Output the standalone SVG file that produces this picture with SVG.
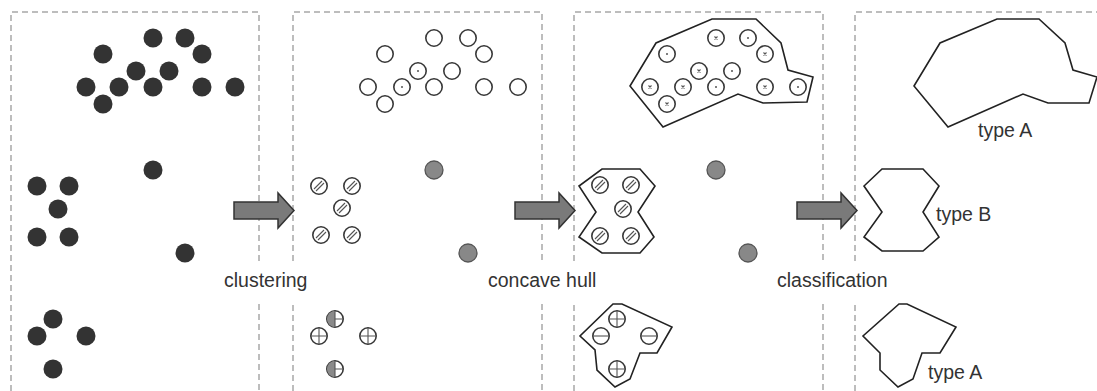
<svg xmlns="http://www.w3.org/2000/svg" xmlns:xlink="http://www.w3.org/1999/xlink" width="1097" height="391" viewBox="0 0 1097 391">
<style>
.frame{fill:none;stroke:#a8a8a8;stroke-width:1.5;stroke-dasharray:6 4}
.hull{fill:none;stroke:#222;stroke-width:1.6;stroke-linejoin:miter}
.arrow{fill:#7a7a7a;stroke:#333;stroke-width:1.5}
.lbl{font-family:"Liberation Sans",Arial,sans-serif;font-size:19.5px;fill:#333}
.ring{fill:#fff;stroke:#383838;stroke-width:1.6}
.mark{stroke:#555;stroke-width:1.1;fill:none}
</style>
<defs>
<g id="dot"><circle r="9.5" fill="#333"/></g>
<g id="gray"><circle r="9" fill="#888" stroke="#555" stroke-width="1.3"/></g>
<g id="open"><circle r="8.2" class="ring"/></g>
<g id="opendot"><circle r="8.2" class="ring"/><circle r="1" fill="#555"/></g>
<g id="star"><circle r="8.2" class="ring"/><path class="mark" d="M-1.5,-1.5L1.5,1.5M-1.5,1.5L1.5,-1.5"/></g>
<g id="hatch"><circle r="8.2" class="ring"/><path class="mark" d="M-5,3L3,-5M-3,5L5,-3"/></g>
<g id="cross"><circle r="8.2" class="ring"/><path class="mark" d="M-8,0H8M0,-8V8"/></g>
<g id="half"><circle r="8.2" class="ring"/><path d="M0,-8A8,8 0 0 0 0,8Z" fill="#8a8a8a"/><path class="mark" d="M0,-8V8M0,0H8"/></g>
<g id="hbar"><circle r="8.2" class="ring"/><path class="mark" d="M-8,0H8"/></g>
<g id="hvbar"><circle r="8.2" class="ring"/><path class="mark" d="M-8,0H8M0,-8V8"/></g>
</defs>
<rect width="1097" height="391" fill="#fff"/>

<g id="frames">
<path class="frame" d="M11,391V12H259V261M259,304V391"/>
<path class="frame" d="M293,391V304M293,261V12H542V261M542,304V391"/>
<path class="frame" d="M574,391V304M574,261V12H823V261M823,304V391"/>
<path class="frame" d="M855,391V304M855,261V12H1100"/>
</g>

<g id="panel-1-points">
<use href="#dot" x="153" y="38"/><use href="#dot" x="185" y="38"/>
<use href="#dot" x="103" y="54"/><use href="#dot" x="202" y="54"/>
<use href="#dot" x="136" y="71"/><use href="#dot" x="169" y="71"/>
<use href="#dot" x="86" y="87"/><use href="#dot" x="119" y="87"/><use href="#dot" x="153" y="87"/><use href="#dot" x="202" y="87"/><use href="#dot" x="235" y="87"/>
<use href="#dot" x="103" y="104"/>
<use href="#dot" x="153" y="170"/>
<use href="#dot" x="37" y="186"/><use href="#dot" x="69" y="186"/>
<use href="#dot" x="58" y="209"/>
<use href="#dot" x="37" y="237"/><use href="#dot" x="69" y="237"/>
<use href="#dot" x="185" y="253"/>
<use href="#dot" x="53" y="319"/><use href="#dot" x="37" y="336"/><use href="#dot" x="86" y="336"/><use href="#dot" x="53" y="369"/>
</g>

<g id="panel-2-clusters">
<use href="#open" x="434" y="38"/><use href="#open" x="468" y="38"/>
<use href="#open" x="385" y="54"/><use href="#open" x="484" y="54"/>
<use href="#opendot" x="418" y="71"/><use href="#open" x="452" y="71"/>
<use href="#open" x="368" y="87"/><use href="#opendot" x="402" y="87"/><use href="#open" x="434" y="87"/><use href="#open" x="484" y="87"/><use href="#open" x="518" y="87"/>
<use href="#open" x="385" y="104"/>
<use href="#gray" x="434" y="170"/>
<use href="#hatch" x="319" y="186"/><use href="#hatch" x="352" y="186"/>
<use href="#hatch" x="342" y="208"/>
<use href="#hatch" x="321" y="235"/><use href="#hatch" x="352" y="235"/>
<use href="#gray" x="468" y="253"/>
<use href="#half" x="335" y="319"/><use href="#cross" x="319" y="336"/><use href="#cross" x="368" y="336"/><use href="#half" x="335" y="369"/>
</g>

<g id="panel-3-hulls">
<polygon class="hull" points="712,19 756,19 781,43 788,70 813,77 807,102 763,103 738,94 663,127 630,86 656,43"/>
<use href="#star" x="716" y="38"/><use href="#opendot" x="748" y="38"/>
<use href="#opendot" x="667" y="54"/><use href="#star" x="765" y="54"/>
<use href="#star" x="699" y="71"/><use href="#opendot" x="732" y="71"/>
<use href="#star" x="650" y="87"/><use href="#star" x="683" y="87"/><use href="#opendot" x="716" y="87"/><use href="#star" x="765" y="87"/><use href="#opendot" x="798" y="87"/>
<use href="#star" x="667" y="104"/>
<use href="#gray" x="716" y="170"/>
<polygon class="hull" points="602,169 640,169 655,186 638,212 654,237 640,253 602,253 579,237 596,212 579,186"/>
<use href="#hatch" x="600" y="185"/><use href="#hatch" x="631" y="185"/>
<use href="#hatch" x="623" y="209"/>
<use href="#hatch" x="600" y="236"/><use href="#hatch" x="631" y="236"/>
<use href="#gray" x="748" y="253"/>
<polygon class="hull" points="613,304 622,304 672,327 657,353 640,353 630,379 615,387 597,370 595,350 580,336"/>
<use href="#hvbar" x="617" y="319"/><use href="#hbar" x="601" y="336"/><use href="#hbar" x="649" y="336"/><use href="#hvbar" x="617" y="369"/>
</g>

<g id="panel-4-types">
<polygon class="hull" points="997,19 1039,19 1065,43 1073,70 1097,77 1089,103 1048,103 1023,94 948,127 914,86 940,43"/>
<text class="lbl" x="978" y="137">type A</text>
<polygon class="hull" points="882,169 923,169 939,186 923,212 939,237 923,251 882,251 864,237 882,212 864,186"/>
<text class="lbl" x="936" y="221">type B</text>
<polygon class="hull" points="899,304 907,304 956,327 940,353 922,353 913,379 898,387 880,370 880,353 863,336"/>
<text class="lbl" x="928" y="379">type A</text>
</g>

<g id="connectors">
<path class="arrow" d="M234,202H278V193L294,210.5L278,228V219H234Z"/>
<path class="arrow" d="M515,202H559V193L575,210.5L559,228V219H515Z"/>
<path class="arrow" d="M797,202H841V193L857,210.5L841,228V219H797Z"/>
<text class="lbl" x="224" y="287">clustering</text>
<text class="lbl" x="488" y="287">concave hull</text>
<text class="lbl" x="777" y="287">classification</text>
</g>
</svg>
